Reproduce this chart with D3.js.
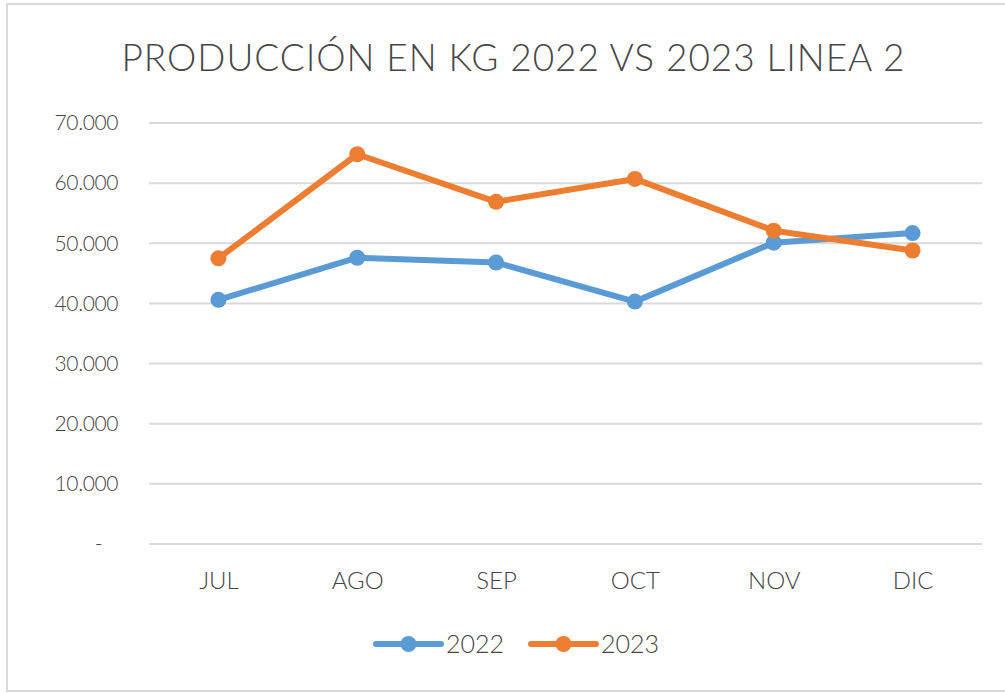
<!DOCTYPE html>
<html>
<head>
<meta charset="utf-8">
<script src="https://cdn.jsdelivr.net/npm/d3@7"></script>
<style>
  html, body { margin: 0; padding: 0; background: #fff; }
  svg { display: block; }
  text { font-family: Lato, "Open Sans", sans-serif; font-weight: 300; }
</style>
</head>
<body>
<svg id="chart" width="1005" height="693"></svg>
<script>
// Monthly production (kg), line 2
const months = ["JUL", "AGO", "SEP", "OCT", "NOV", "DIC"];
const values2022 = [40600, 47600, 46800, 40300, 50100, 51700];
const values2023 = [47500, 64800, 56900, 60700, 52100, 48800];
const yTicks = [0, 10000, 20000, 30000, 40000, 50000, 60000, 70000];
const seriesNames = ["2022", "2023"];
const seriesColors = ["#5B9BD5", "#ED7D31"];
const titleText = "PRODUCCIÓN EN KG 2022 VS 2023 LINEA 2";

const svg = d3.select("#chart");
const W = 1005, H = 693;
const textColor = "#444444";
const fontStack = "Lato, 'Open Sans', sans-serif";

// chart frame
svg.append("rect")
  .attr("x", 7).attr("y", 4).attr("width", W + 10).attr("height", 687)
  .attr("fill", "#fff").attr("stroke", "#d9d9d9").attr("stroke-width", 2);

const x = d3.scalePoint().domain(months).range([149, 982]).padding(0.5);
const y = d3.scaleLinear().domain([0, 70000]).range([544, 123]);

const fmt = v => v === 0 ? "-" : d3.format(",")(v).replace(/,/g, ".");

// horizontal gridlines
svg.append("g")
  .selectAll("line").data(yTicks).join("line")
  .attr("x1", 149).attr("x2", 982)
  .attr("y1", d => y(d)).attr("y2", d => y(d))
  .attr("stroke", "#d9d9d9").attr("stroke-width", 2);

// y axis labels
const yAxis = svg.append("g").attr("transform", "translate(118,0)")
  .call(d3.axisLeft(y).tickValues(yTicks).tickFormat(fmt).tickSize(0).tickPadding(0));
yAxis.select(".domain").remove();
yAxis.selectAll("text")
  .attr("fill", textColor).attr("font-size", 21)
  .attr("letter-spacing", -0.4)
  .attr("dx", d => d === 0 ? -16 : 0)
  .style("font-family", fontStack);

// x axis labels
const xAxis = svg.append("g").attr("transform", "translate(0,572)")
  .call(d3.axisBottom(x).tickSize(0).tickPadding(0));
xAxis.select(".domain").remove();
xAxis.selectAll("text")
  .attr("fill", textColor).attr("font-size", 24)
  .style("font-family", fontStack);

// series lines and markers
const series = [values2022, values2023];
const line = d3.line().x((d, i) => x(months[i])).y(d => y(d));
series.forEach((vals, si) => {
  svg.append("path")
    .datum(vals)
    .attr("d", line)
    .attr("fill", "none")
    .attr("stroke", seriesColors[si])
    .attr("stroke-width", 6)
    .attr("stroke-linejoin", "round")
    .attr("stroke-linecap", "round");
  svg.append("g").selectAll("circle").data(vals).join("circle")
    .attr("cx", (d, i) => x(months[i]))
    .attr("cy", d => y(d))
    .attr("r", 8)
    .attr("fill", seriesColors[si]);
});

// title
svg.append("text")
  .attr("x", 513).attr("y", 71)
  .attr("text-anchor", "middle")
  .attr("fill", "#474747")
  .attr("font-size", 37)
  .attr("textLength", 783)
  .attr("lengthAdjust", "spacing")
  .text(titleText);

// legend
const legendItems = [
  { x0: 376, x1: 441, tx: 446 },
  { x0: 531, x1: 596, tx: 601 }
];
const ly = 644;
legendItems.forEach((it, i) => {
  svg.append("line")
    .attr("x1", it.x0).attr("x2", it.x1).attr("y1", ly).attr("y2", ly)
    .attr("stroke", seriesColors[i]).attr("stroke-width", 6)
    .attr("stroke-linecap", "round");
  svg.append("circle")
    .attr("cx", (it.x0 + it.x1) / 2).attr("cy", ly).attr("r", 8)
    .attr("fill", seriesColors[i]);
  svg.append("text")
    .attr("x", it.tx).attr("y", ly).attr("dy", "0.36em")
    .attr("fill", textColor).attr("font-size", 25)
    .text(seriesNames[i]);
});
</script>
</body>
</html>
